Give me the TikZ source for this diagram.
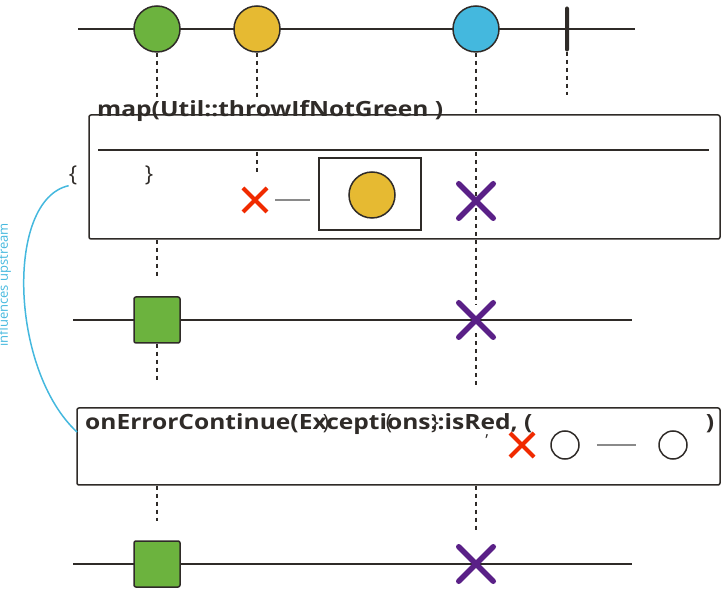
\documentclass[tikz,border=0pt]{standalone}
\usepackage{fontspec}
\setmainfont{Open Sans}
\newfontfamily\opfont[FakeStretch=1.17]{Open Sans}
\usetikzlibrary{shapes.misc}

\definecolor{ink}{HTML}{2F2B28}
\definecolor{mgreen}{HTML}{6CB33E}
\definecolor{myellow}{HTML}{E6BA32}
\definecolor{mblue}{HTML}{44B8DE}
\definecolor{mpurple}{HTML}{5A2087}
\definecolor{mred}{HTML}{F02A00}
\definecolor{mgray}{HTML}{8A8A8A}

\tikzset{
    marble/.style = {circle, draw=ink, line width=1.5pt, minimum size=46pt, inner sep=0pt},
    hollow/.style = {circle, draw=ink, line width=1.5pt, minimum size=28pt, inner sep=0pt},
    block/.style = {rectangle, rounded corners=2pt, draw=ink, fill=mgreen, line width=1.5pt, minimum size=46pt},
    failx/.style = {cross out, draw=mpurple, line width=5.5pt, line cap=round, minimum size=29pt, inner sep=0pt},
    dropx/.style = {cross out, draw=mred, line width=4pt, minimum size=20pt, inner sep=0pt},
    opbox/.style = {rectangle, rounded corners=2pt, draw=ink, line width=1.5pt, inner sep=0pt},
    optext/.style = {font=\opfont\bfseries\fontsize{21}{25}\selectfont, text=ink, anchor=base west, inner sep=0pt},
    glyph/.style = {font=\fontsize{21}{25}\selectfont, text=ink, anchor=base, inner sep=0pt},
    drop/.style = {draw=ink, line width=1.5pt, dash pattern=on 4pt off 4pt},
    timeline/.style = {draw=ink, line width=2pt},
    link/.style = {draw=mgray, line width=1.5pt}
}

\begin{document}
\begin{tikzpicture} [x=1pt, y=-1pt]
    \useasboundingbox (0,0) rectangle (726,593);

    % source timeline
    \coordinate (t1a) at (78,29);
    \coordinate (t1b) at (635,29);
    \draw [timeline] (t1a) -- (t1b);
    \node (c1) [marble, fill=mgreen] at (157,29) {};
    \node (c2) [marble, fill=myellow] at (257,29) {};
    \node (c3) [marble, fill=mblue] at (476,29) {};
    \node (done) [rectangle, rounded corners=2pt, fill=ink, minimum width=4pt, minimum height=45pt, inner sep=0pt] at (567,29) {};

    % map operator
    \node (maptitle) [optext] at (97,117) {map(Util::throwIfNotGreen )};
    \node (mapbox) [opbox, minimum width=631pt, minimum height=124pt] at (404.5,177) {};
    \draw [timeline, line width=1.5pt] (98,150) -- (709,150);
    \node (lbrace) [glyph, font=\fontsize{22}{26}\selectfont] at (73,182) {\{};
    \node (rbrace) [glyph, font=\fontsize{22}{26}\selectfont] at (149,182) {\}};
    \node (innerbox) [rectangle, draw=ink, line width=1.5pt, minimum width=102pt, minimum height=72pt] at (370,194) {};
    \node (ym) [marble, fill=myellow] at (372,195) {};
    \node (mx) [dropx] at (255,200) {};
    \draw [link] ([xshift=8pt]mx.east) -- ([xshift=-8pt]mx.east -| innerbox.west);

    \draw [drop] (c1) -- (c1 |- maptitle.north);
    \draw [drop] (c2) -- (c2 |- maptitle.north);
    \draw [drop] (c3) -- (c3 |- mapbox.north);
    \draw [drop] (done.south) -- (567,95);
    \draw [drop] (257,152) -- (257,172);
    \draw [drop] (476,152) -- (476,248);
    \node (fx1) [failx] at (476,201) {};

    % after map
    \draw [drop] (mapbox.south -| c1) -- (157,277);
    \draw [drop] (mapbox.south -| c3) -- (476,305);
    \coordinate (t2a) at (73,320);
    \coordinate (t2b) at (632,320);
    \draw [timeline] (t2a) -- (t2b);
    \node (s1) [block] at (157,320) {};
    \draw [drop] (s1) -- (157,383);
    \draw [drop] (476,333) -- (476,388);
    \node (fx2) [failx] at (476,320) {};

    % onErrorContinue operator
    \node (errbox) [opbox, minimum width=643pt, minimum height=77pt] at (398.5,446.5) {};
    \node (errtitle) [optext] at (85,430) {onErrorContinue(Exceptions::isRed, (};
    \node [glyph] at (326,430) {)};
    \node [glyph] at (389,430) {(};
    \node [glyph] at (435,430) {\}};
    \node [glyph, font=\fontsize{16}{20}\selectfont] at (487,437) {,};
    \node [glyph, font=\opfont\bfseries\fontsize{21}{25}\selectfont] at (710,430) {)};
    \node (ex) [dropx] at (522,445) {};
    \node (o1) [hollow] at (565,445) {};
    \node (o2) [hollow] at (673,445) {};
    \draw [link, shorten <=17pt, shorten >=22pt] (o1) -- (o2);

    % upstream hint
    \coordinate (upin) at (77,432);
    \draw [draw=mblue, line width=1.5pt] (lbrace.south west) .. controls (5,200) and (10,370) .. (upin);
    \node (hint) [rotate=90, anchor=base, text=mblue, font=\fontsize{13}{15}\selectfont, inner sep=0pt] at (8,285) {influences upstream};

    % result timeline
    \draw [drop] (errbox.south -| c1) -- (157,521);
    \draw [drop] (errbox.south -| c3) -- (476,530);
    \coordinate (t3a) at (73,564);
    \coordinate (t3b) at (632,564);
    \draw [timeline] (t3a) -- (t3b);
    \node (s2) [block] at (157,564) {};
    \node (fx3) [failx] at (476,564) {};
\end{tikzpicture}
\end{document}
